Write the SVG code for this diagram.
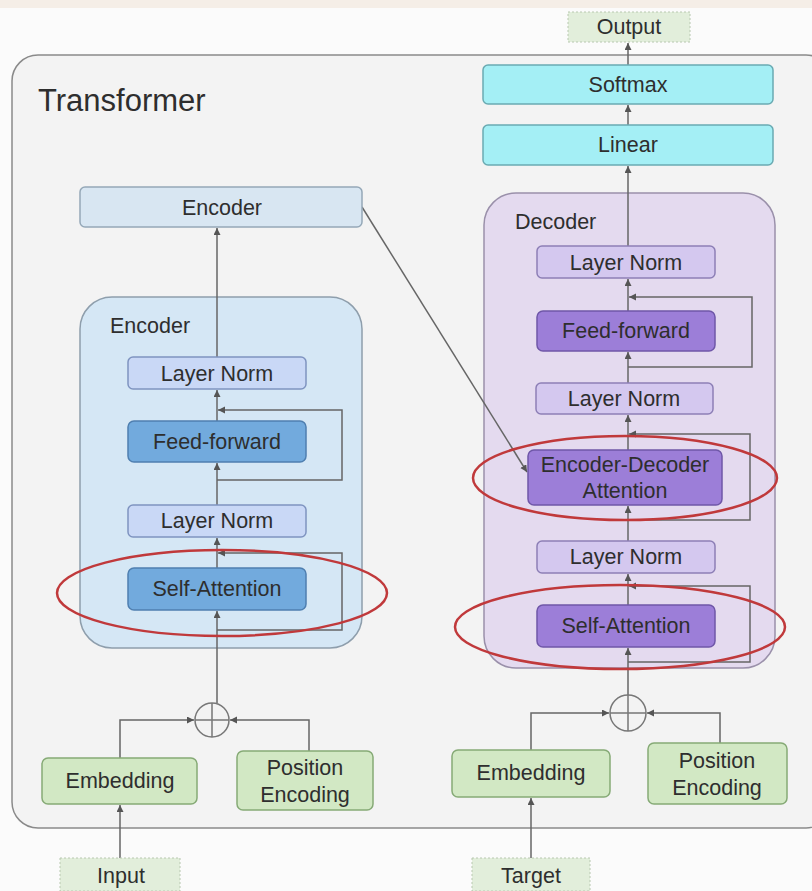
<svg xmlns="http://www.w3.org/2000/svg" width="812" height="891" viewBox="0 0 812 891">
<defs>
<marker id="ah" markerWidth="8" markerHeight="8" refX="7" refY="3.5" orient="auto" markerUnits="userSpaceOnUse">
<path d="M0,0 L7,3.5 L0,7 Z" fill="#555"/>
</marker>
<style>
text{font-family:"Liberation Sans",Arial,sans-serif;fill:#2e2e2e;text-anchor:middle;dominant-baseline:central}
.lbl{font-size:21.5px}
.cap{font-size:21.5px;text-anchor:start}
.con{fill:none;stroke:#666;stroke-width:1.5}
.arr{fill:none;stroke:#666;stroke-width:1.5;marker-end:url(#ah)}
.cyan{fill:#a4eff5;stroke:#6aaab2;stroke-width:1.5}
.green{fill:#d2e8c4;stroke:#86aa76;stroke-width:1.5}
.io{fill:#e2eedb;stroke:#b8c8b0;stroke-width:1;stroke-dasharray:2 2}
.eln{fill:#c9d8f6;stroke:#7f94c0;stroke-width:1.5}
.edk{fill:#72aadd;stroke:#4f7fb0;stroke-width:1.5}
.dln{fill:#d4c8ef;stroke:#8d7fb6;stroke-width:1.5}
.ddk{fill:#9c7ed8;stroke:#6f57a8;stroke-width:1.5}
.red{fill:none;stroke:#c0393b;stroke-width:2.5}
</style>
</defs>
<rect x="0" y="0" width="812" height="891" fill="#fbfbfb"/>
<rect x="0" y="0" width="812" height="8" fill="#f5eee7"/>
<g id="transformer">
<rect x="12" y="55" width="820" height="773" rx="26" fill="#f3f3f3" stroke="#8a8a8a" stroke-width="1.5"/>
<text x="38" y="100" style="font-size:31px;text-anchor:start">Transformer</text>
</g>
<g id="encoder-container">
<rect x="80" y="297" width="282" height="351" rx="32" fill="#d5e7f5" stroke="#8e9eac" stroke-width="1.5"/>
<text class="cap" x="110" y="326">Encoder</text>
</g>
<g id="decoder-container">
<rect x="484" y="193" width="291" height="475" rx="32" fill="#e4daef" stroke="#9a90aa" stroke-width="1.5"/>
<text class="cap" x="515" y="222">Decoder</text>
</g>
<g id="connectors">
<line class="arr" x1="628" y1="65" x2="628" y2="43"/>
<line class="arr" x1="628" y1="125" x2="628" y2="105"/>
<line class="arr" x1="628" y1="246" x2="628" y2="166"/>
<line class="arr" x1="217" y1="357" x2="217" y2="228"/>
<line class="arr" x1="217" y1="421" x2="217" y2="390"/>
<line class="arr" x1="217" y1="505" x2="217" y2="463"/>
<line class="arr" x1="217" y1="568" x2="217" y2="538"/>
<line class="arr" x1="217" y1="703" x2="217" y2="611"/>
<polyline class="arr" points="217,480 342,480 342,410 218,410"/>
<polyline class="arr" points="217,630 342,630 342,553 218,553"/>
<line class="arr" x1="628" y1="311" x2="628" y2="279"/>
<line class="arr" x1="628" y1="383" x2="628" y2="352"/>
<line class="arr" x1="628" y1="450" x2="628" y2="415"/>
<line class="arr" x1="628" y1="541" x2="628" y2="506"/>
<line class="arr" x1="628" y1="605" x2="628" y2="574"/>
<line class="arr" x1="628" y1="695" x2="628" y2="648"/>
<polyline class="arr" points="628,367 752,367 752,297 629,297"/>
<polyline class="arr" points="628,520 750,520 750,434 629,434"/>
<polyline class="arr" points="628,662 750,662 750,586 629,586"/>
<line class="arr" x1="362" y1="207" x2="527" y2="472"/>
<polyline class="arr" points="120,758 120,720 194,720"/>
<polyline class="arr" points="309,751 309,720 230,720"/>
<polyline class="arr" points="531,750 531,713 609,713"/>
<polyline class="arr" points="720,743 720,713 647,713"/>
<line class="arr" x1="120" y1="858" x2="120" y2="805"/>
<line class="arr" x1="531" y1="858" x2="531" y2="798"/>
</g>
<g id="output"><rect class="io" x="568" y="12" width="122" height="30"/><text class="lbl" x="629" y="27">Output</text></g>
<g id="softmax"><rect class="cyan" x="483" y="65" width="290" height="39" rx="5"/><text class="lbl" x="628" y="85">Softmax</text></g>
<g id="linear"><rect class="cyan" x="483" y="125" width="290" height="40" rx="5"/><text class="lbl" x="628" y="145">Linear</text></g>
<g id="encoder-out"><rect x="80" y="187" width="282" height="40" rx="5" fill="#d8e6f2" stroke="#95a8b8" stroke-width="1.5"/><text class="lbl" x="222" y="208">Encoder</text></g>
<g id="enc-ln2"><rect class="eln" x="128" y="357" width="178" height="32" rx="5"/><text class="lbl" x="217" y="374">Layer Norm</text></g>
<g id="enc-ff"><rect class="edk" x="128" y="421" width="178" height="41" rx="6"/><text class="lbl" x="217" y="442">Feed-forward</text></g>
<g id="enc-ln1"><rect class="eln" x="128" y="505" width="178" height="32" rx="5"/><text class="lbl" x="217" y="521">Layer Norm</text></g>
<g id="enc-sa"><rect class="edk" x="128" y="568" width="178" height="42" rx="6"/><text class="lbl" x="217" y="589">Self-Attention</text></g>
<g id="dec-ln3"><rect class="dln" x="537" y="246" width="178" height="32" rx="5"/><text class="lbl" x="626" y="263">Layer Norm</text></g>
<g id="dec-ff"><rect class="ddk" x="537" y="311" width="178" height="40" rx="6"/><text class="lbl" x="626" y="331">Feed-forward</text></g>
<g id="dec-ln2"><rect class="dln" x="536" y="383" width="177" height="31" rx="5"/><text class="lbl" x="624" y="399">Layer Norm</text></g>
<g id="dec-eda"><rect class="ddk" x="528" y="450" width="194" height="55" rx="6"/><text class="lbl" x="625" y="465">Encoder-Decoder</text><text class="lbl" x="625" y="491">Attention</text></g>
<g id="dec-ln1"><rect class="dln" x="537" y="541" width="178" height="32" rx="5"/><text class="lbl" x="626" y="557">Layer Norm</text></g>
<g id="dec-sa"><rect class="ddk" x="537" y="605" width="178" height="42" rx="6"/><text class="lbl" x="626" y="626">Self-Attention</text></g>
<g id="enc-plus"><circle cx="212" cy="720" r="17" fill="#f3f3f3" stroke="#777" stroke-width="1.5"/><path d="M195,720 H229 M212,703 V737" stroke="#777" stroke-width="1.5"/></g>
<g id="dec-plus"><circle cx="628" cy="713" r="18" fill="#f3f3f3" stroke="#777" stroke-width="1.5"/><path d="M610,713 H646 M628,695 V731" stroke="#777" stroke-width="1.5"/></g>
<g id="enc-emb"><rect class="green" x="42" y="758" width="155" height="46" rx="6"/><text class="lbl" x="120" y="781">Embedding</text></g>
<g id="enc-pos"><rect class="green" x="237" y="751" width="136" height="59" rx="6"/><text class="lbl" x="305" y="768">Position</text><text class="lbl" x="305" y="795">Encoding</text></g>
<g id="dec-emb"><rect class="green" x="452" y="750" width="158" height="47" rx="6"/><text class="lbl" x="531" y="773">Embedding</text></g>
<g id="dec-pos"><rect class="green" x="648" y="743" width="139" height="61" rx="6"/><text class="lbl" x="717" y="761">Position</text><text class="lbl" x="717" y="788">Encoding</text></g>
<g id="input"><rect class="io" x="60" y="858" width="120" height="33"/><text class="lbl" x="121" y="876">Input</text></g>
<g id="target"><rect class="io" x="472" y="858" width="118" height="33"/><text class="lbl" x="531" y="876">Target</text></g>
<g id="highlights">
<ellipse class="red" cx="222" cy="593" rx="165" ry="43"/>
<ellipse class="red" cx="625" cy="478" rx="152" ry="42"/>
<ellipse class="red" cx="620" cy="627" rx="165" ry="42"/>
</g>
</svg>
